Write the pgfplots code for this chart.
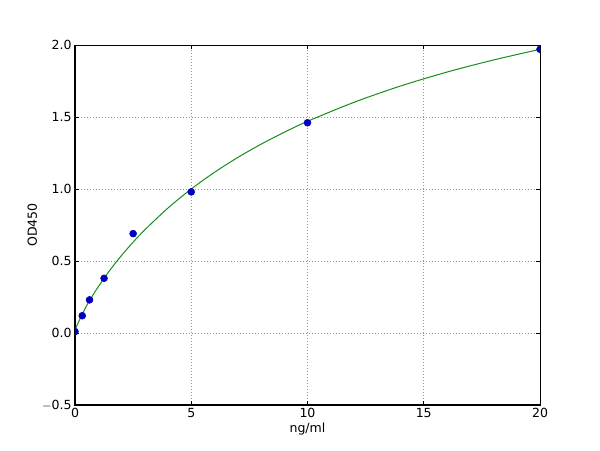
\documentclass[border=0pt]{standalone}
\usepackage{pgfplots}
\pgfplotsset{compat=1.18}
\usepackage{fontspec}
\setmainfont{DejaVu Sans}
\begin{document}
\begin{tikzpicture}
\useasboundingbox (0pt,0pt) rectangle (450pt,337.5pt);
\begin{axis}[
  at={(56.25pt,33.75pt)}, anchor=south west,
  scale only axis, width=348.75pt, height=270pt,
  xmin=0, xmax=20, ymin=-0.5, ymax=2.0,
  xtick={0,5,10,15,20},
  ytick={-0.5,0,0.5,1.0,1.5,2.0},
  yticklabels={$-$0.5,0.0,0.5,1.0,1.5,2.0},
  /pgf/number format/assume math mode=true,
  tick align=inside,
  major tick length=3pt,
  tick style={black, line width=0.5pt},
  axis line style={black, line width=0.75pt},
  grid=major,
  major grid style={gray!80, dash pattern=on 0.75pt off 1.5pt, line width=0.5pt},
  ticklabel style={font=\fontsize{9.4}{11}\selectfont},
  xticklabel style={yshift=1pt},
  yticklabel style={xshift=1pt},
  label style={font=\fontsize{9.4}{11}\selectfont},
  xlabel={ng/ml},
  ylabel={OD450},
  xlabel style={yshift=3pt},
  ylabel style={yshift=-3pt},
  clip marker paths=true,
]
\addplot[color={rgb,1:red,0.1;green,0.55;blue,0.1}, line width=0.75pt, smooth, tension=0.5] coordinates {
(0,0.02) (0.1,0.058) (0.25,0.11) (0.5,0.19) (0.75,0.258) (1,0.321)
(1.5,0.436) (2,0.538) (2.5,0.631) (3,0.716) (4,0.868) (5,1.0)
(6,1.116) (7,1.219) (8,1.311) (9,1.394) (10,1.470) (12,1.602)
(14,1.715) (16,1.812) (18,1.896) (20,1.970)
};
\addplot[only marks, mark=*, mark size=2.6pt, color={rgb,1:red,0;green,0;blue,0.75}] coordinates {
(0,0.01) (0.3125,0.12) (0.625,0.23) (1.25,0.38) (2.5,0.69) (5,0.98) (10,1.46) (20,1.97)
};
\end{axis}
\end{tikzpicture}
\end{document}
